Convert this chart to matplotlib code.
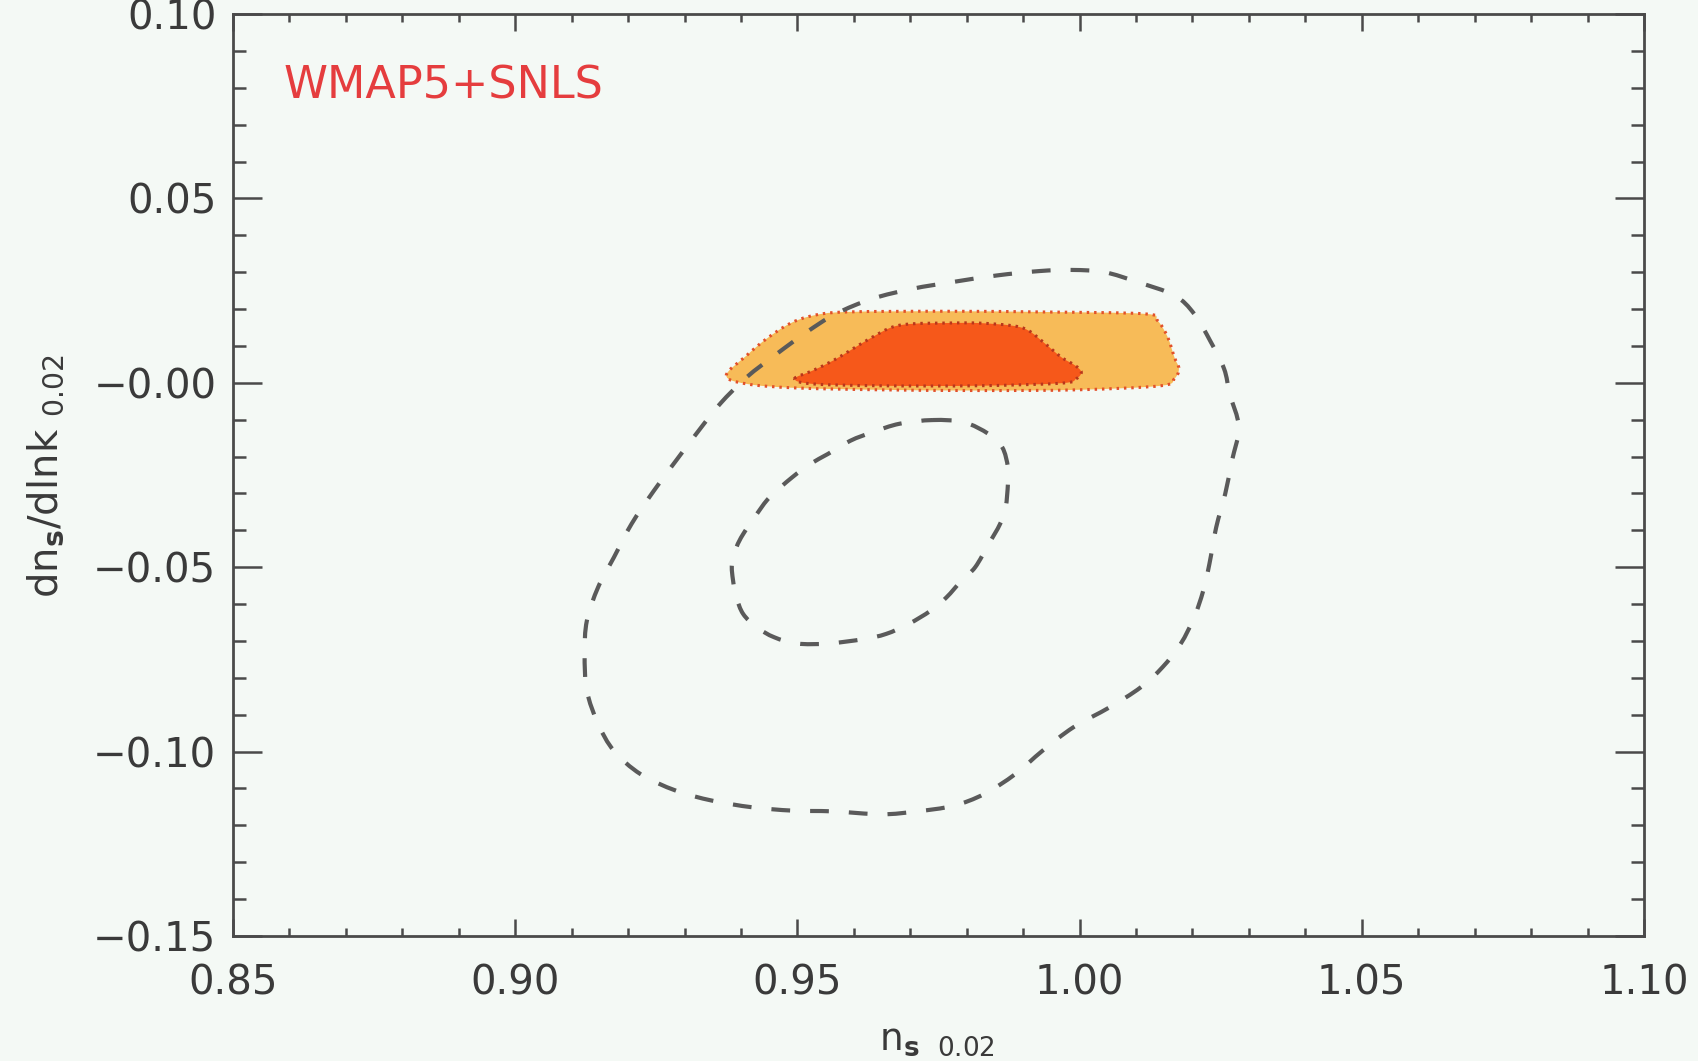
import numpy as np
import matplotlib
matplotlib.use("Agg")
import matplotlib.pyplot as plt
from matplotlib.path import Path
from matplotlib.patches import PathPatch
from matplotlib.ticker import MultipleLocator, FixedLocator

# Axis ticks
ns_ticks = [0.85, 0.90, 0.95, 1.00, 1.05, 1.10]
ns_tick_labels = ["0.85", "0.90", "0.95", "1.00", "1.05", "1.10"]
run_ticks = [-0.15, -0.10, -0.05, 0.00, 0.05, 0.10]
run_tick_labels = ["\u22120.15", "\u22120.10", "\u22120.05", "\u22120.00", "0.05", "0.10"]

# WMAP5 alone: 95% contour (outer, dashed)
wmap_95_ns = [0.9363, 0.9410, 0.9463, 0.9516, 0.9568, 0.9633, 0.9704, 0.9774, 0.9853,
              0.9929, 0.9987, 1.0044, 1.0103, 1.0168, 1.0203, 1.0232, 1.0256, 1.0266,
              1.0282, 1.0270, 1.0258, 1.0242, 1.0230, 1.0219, 1.0203, 1.0179, 1.0147,
              1.0108, 1.0053, 0.9989, 0.9934, 0.9886, 0.9831, 0.9776, 0.9712, 0.9649,
              0.9562, 0.9491, 0.9420, 0.9349, 0.9285, 0.9222, 0.9175, 0.9147, 0.9127,
              0.9123, 0.9127, 0.9147, 0.9175, 0.9206, 0.9246, 0.9285, 0.9325]
wmap_95_run = [-0.0057, 0.0015, 0.0078, 0.0137, 0.0187, 0.0228, 0.0255, 0.0273, 0.0291,
               0.0303, 0.0306, 0.0300, 0.0273, 0.0237, 0.0187, 0.0112, 0.0038, -0.0030,
               -0.0120, -0.0211, -0.0301, -0.0392, -0.0491, -0.0564, -0.0636, -0.0708, -0.0771,
               -0.0826, -0.0880, -0.0934, -0.0998, -0.1061, -0.1115, -0.1147, -0.1162, -0.1170,
               -0.1162, -0.1160, -0.1151, -0.1133, -0.1106, -0.1061, -0.0998, -0.0925, -0.0835,
               -0.0735, -0.0645, -0.0554, -0.0473, -0.0383, -0.0292, -0.0211, -0.0130]

# WMAP5 alone: 68% contour (inner, dashed)
wmap_68_ns = [0.9740, 0.9795, 0.9839, 0.9863, 0.9873, 0.9873, 0.9869, 0.9859, 0.9839,
              0.9815, 0.9791, 0.9764, 0.9736, 0.9697, 0.9657, 0.9617, 0.9554, 0.9499,
              0.9459, 0.9428, 0.9404, 0.9392, 0.9386, 0.9384, 0.9392, 0.9404, 0.9428,
              0.9451, 0.9491, 0.9523, 0.9554, 0.9594, 0.9633, 0.9681]
wmap_68_run = [-0.0101, -0.0107, -0.0139, -0.0175, -0.0229, -0.0274, -0.0338, -0.0383, -0.0437,
               -0.0500, -0.0536, -0.0582, -0.0618, -0.0654, -0.0681, -0.0695, -0.0707, -0.0707,
               -0.0690, -0.0663, -0.0627, -0.0582, -0.0536, -0.0491, -0.0446, -0.0410, -0.0356,
               -0.0310, -0.0256, -0.0220, -0.0193, -0.0157, -0.0134, -0.0111]

# WMAP5+SNLS: 95% region (light fill)
snls_95_ns = [0.9374, 0.9410, 0.9445, 0.9486, 0.9527, 0.9586, 0.9762, 0.9939, 1.0115,
              1.0138, 1.0156, 1.0168, 1.0176, 1.0168, 1.0144, 0.9997, 0.9821, 0.9645,
              0.9498, 0.9410]
snls_95_run = [0.0020, 0.0074, 0.0119, 0.0160, 0.0182, 0.0192, 0.0194, 0.0192, 0.0187,
               0.0169, 0.0124, 0.0069, 0.0038, 0.0011, -0.0008, -0.0019, -0.0021, -0.0019,
               -0.0014, -0.0003]

# WMAP5+SNLS: 68% region (dark fill)
snls_68_ns = [0.9495, 0.9527, 0.9563, 0.9598, 0.9633, 0.9668, 0.9704, 0.9762, 0.9821,
              0.9880, 0.9909, 0.9939, 0.9968, 0.9992, 1.0003, 0.9994, 0.9968, 0.9821,
              0.9645, 0.9527]
snls_68_run = [0.0011, 0.0033, 0.0060, 0.0092, 0.0124, 0.0151, 0.0160, 0.0162, 0.0162,
               0.0155, 0.0142, 0.0106, 0.0069, 0.0047, 0.0029, 0.0011, -0.0001, -0.0008,
               -0.0008, -0.0003]

BG = "#f4f9f5"
AXIS = "#4a4a4a"
TEXT = "#3a3a3a"


def smooth_closed_path(xs, ys):
    """Closed Bezier path passing through the given vertices (Catmull-Rom tangents)."""
    p = np.column_stack([xs, ys])
    n = len(p)
    verts = [p[0]]
    codes = [Path.MOVETO]
    for i in range(n):
        p0, p1, p2, p3 = p[i - 1], p[i], p[(i + 1) % n], p[(i + 2) % n]
        verts += [p1 + (p2 - p0) / 6.0, p2 - (p3 - p1) / 6.0, p2]
        codes += [Path.CURVE4] * 3
    return Path(np.array(verts), codes)


fig = plt.figure(figsize=(16.98, 10.61), dpi=100, facecolor=BG)
ax = fig.add_axes([233 / 1698, 1 - 936 / 1061, (1644 - 233) / 1698, (936 - 14) / 1061])
ax.set_facecolor(BG)

# filled WMAP5+SNLS regions with dotted edges
path95 = smooth_closed_path(snls_95_ns, snls_95_run)
ax.add_patch(PathPatch(path95, facecolor="#f7bb58", edgecolor="none", zorder=2))
ax.add_patch(PathPatch(path95, facecolor="none", edgecolor="#e2502a", lw=2.2,
                       ls=(0, (0.8, 1.6)), zorder=3))
path68 = smooth_closed_path(snls_68_ns, snls_68_run)
ax.add_patch(PathPatch(path68, facecolor="#f6581a", edgecolor="none", zorder=4))
ax.add_patch(PathPatch(path68, facecolor="none", edgecolor="#b8361c", lw=2.2,
                       ls=(0, (0.8, 1.6)), zorder=5))

# WMAP5-only contours, dashed
for xs, ys in ((wmap_95_ns, wmap_95_run), (wmap_68_ns, wmap_68_run)):
    ax.add_patch(PathPatch(smooth_closed_path(xs, ys), facecolor="none",
                           edgecolor="#5a5a5a", lw=3.0, ls=(0, (4.5, 4.8)), zorder=6))

ax.set_xlim(0.85, 1.10)
ax.set_ylim(-0.15, 0.10)
ax.xaxis.set_major_locator(FixedLocator(ns_ticks))
ax.set_xticklabels(ns_tick_labels)
ax.yaxis.set_major_locator(FixedLocator(run_ticks))
ax.set_yticklabels(run_tick_labels)
ax.xaxis.set_minor_locator(MultipleLocator(0.01))
ax.yaxis.set_minor_locator(MultipleLocator(0.01))

ax.tick_params(axis="both", which="both", direction="in", top=True, right=True,
               color=AXIS, width=1.8, labelcolor=TEXT, labelsize=29)
ax.tick_params(axis="x", which="major", length=12.5, pad=20)
ax.tick_params(axis="x", which="minor", length=6)
ax.tick_params(axis="y", which="major", length=21, pad=12)
ax.tick_params(axis="y", which="minor", length=9.5)
for s in ax.spines.values():
    s.set_color(AXIS)
    s.set_linewidth(2.0)

plt.rcParams["mathtext.default"] = "regular"
fig.text(46 / 1698, 1 - 476 / 1061, r"dn$_{\mathbf{s}}$/dlnk $_{0.02}$", rotation=90,
         ha="center", va="center", fontsize=29, color=TEXT)
fig.text(937 / 1698, 1 - 1040 / 1061, r"n$_{\mathbf{s}}$$_{\ \ 0.02}$",
         ha="center", va="center", fontsize=27, color=TEXT)

ax.text(0.859, 0.0805, "WMAP5+SNLS", color="#e53d3e", fontsize=32, ha="left", va="center")

fig.savefig("out.png", dpi=100, facecolor=BG)
